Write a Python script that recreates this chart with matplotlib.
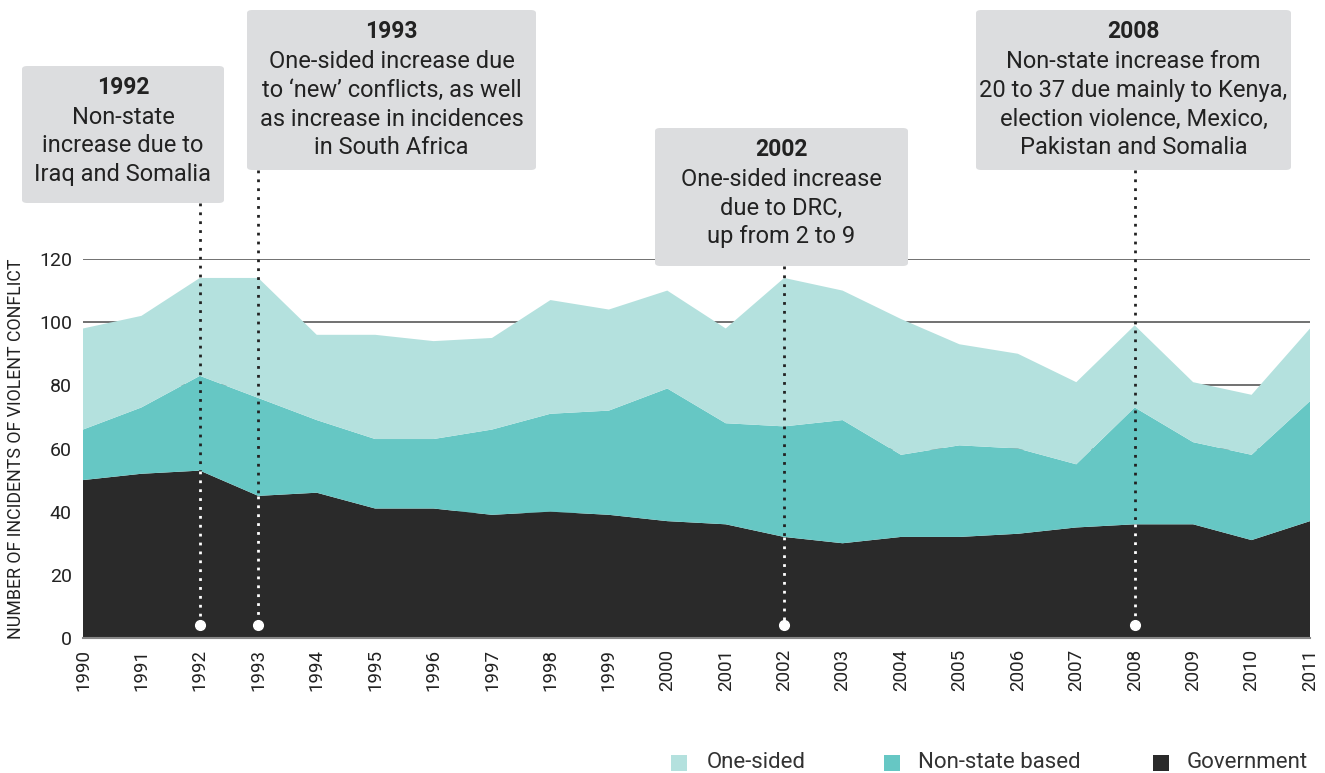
import matplotlib
matplotlib.use("Agg")
import matplotlib.pyplot as plt
from matplotlib.patches import FancyBboxPatch, Rectangle

years = list(range(1990, 2012))
government = [50, 52, 53, 45, 46, 41, 41, 39, 40, 39, 37, 36, 32, 30, 32, 32, 33, 35, 36, 36, 31, 37]
non_state = [16, 21, 30, 31, 23, 22, 22, 27, 31, 33, 42, 32, 35, 39, 26, 29, 27, 20, 37, 26, 27, 38]
one_sided = [32, 29, 31, 38, 27, 33, 31, 29, 36, 32, 31, 30, 47, 41, 43, 32, 30, 26, 26, 19, 19, 23]

series_names = ["One-sided", "Non-state based", "Government"]
colors = {"One-sided": "#b4e1de", "Non-state based": "#66c7c4", "Government": "#2a2a2a"}

notes = [
    (1992, "1992", ["Non-state", "increase due to", "Iraq and Somalia"]),
    (1993, "1993", ["One-sided increase due", "to \u2018new\u2019 conflicts, as well",
                    "as increase in incidences", "in South Africa"]),
    (2002, "2002", ["One-sided increase", "due to DRC,", "up from 2 to 9"]),
    (2008, "2008", ["Non-state increase from", "20 to 37 due mainly to Kenya,",
                    "election violence, Mexico,", "Pakistan and Somalia"]),
]
# box extents in pixels: left, right, top, bottom
boxes = {1992: (22, 224, 66, 203), 1993: (247, 536, 10, 170),
         2002: (655, 908, 128, 266), 2008: (976, 1291, 10, 170)}

W, H = 1325, 773
FONT = "Roboto"
plt.rcParams["font.family"] = [FONT, "DejaVu Sans"]

fig = plt.figure(figsize=(W / 100, H / 100), dpi=100)
ax_l, ax_r, ax_t, ax_b = 83, 1310, 259, 638
ax = fig.add_axes([ax_l / W, 1 - ax_b / H, (ax_r - ax_l) / W, (ax_b - ax_t) / H])


def fx(px):
    return px / W


def fy(py):
    return 1 - py / H


def val(py):
    return (ax_b - py) / (ax_b - ax_t) * 120


ax.stackplot(years, government, non_state, one_sided,
             colors=[colors["Government"], colors["Non-state based"], colors["One-sided"]],
             linewidth=0, zorder=2)

ax.set_xlim(1990, 2011)
ax.set_ylim(0, 120)
ax.set_yticks(range(0, 121, 20))
ax.set_xticks(years)
ax.set_xticklabels([str(y) for y in years], rotation=90, fontsize=13.5, color="#222222")
ax.tick_params(axis="y", labelsize=14, colors="#222222", length=0, pad=8)
ax.tick_params(axis="x", length=0, pad=8)
ax.grid(axis="y", color="#666666", linewidth=1.3, zorder=1)
ax.set_axisbelow(True)
for s in ["top", "right", "left"]:
    ax.spines[s].set_visible(False)
ax.spines["bottom"].set_color("#888888")
ax.spines["bottom"].set_linewidth(1.5)
ax.spines["bottom"].set_zorder(3)
ax.set_ylabel("NUMBER OF INCIDENTS OF VIOLENT CONFLICT", fontsize=12.8, color="#222222")
ax.yaxis.set_label_coords(-0.047, 0.5)

# annotation boxes with dotted leaders
for year, title, lines in notes:
    l, r, t, b = boxes[year]
    box = FancyBboxPatch((fx(l), fy(b)), fx(r - l), (b - t) / H,
                         boxstyle="round,pad=0,rounding_size=0.004",
                         transform=fig.transFigure, facecolor="#dcdddf",
                         edgecolor="none", zorder=5)
    fig.patches.append(box)
    cx = fx((l + r) / 2)
    fig.text(cx, fy(t + 22), title, ha="center", va="center", fontsize=16.5,
             fontweight="bold", color="#222222", zorder=6)
    for i, line in enumerate(lines):
        fig.text(cx, fy(t + 51 + 29 * i), line, ha="center", va="center",
                 fontsize=17, color="#222222", zorder=6)
    g = government[years.index(year)]
    ax.plot([year, year], [val(b), g], linestyle=(0, (1, 2.2)), color="#222222",
            linewidth=2, zorder=4, clip_on=False)
    ax.plot([year, year], [g, 4], linestyle=(0, (1, 2.2)), color="white",
            linewidth=2, zorder=4)
    ax.plot([year], [4], "o", color="white", markersize=7, zorder=4)

# legend along the bottom
legend_pos = [("One-sided", 671, 707), ("Non-state based", 884, 918), ("Government", 1153, 1187)]
for name, sx, tx in legend_pos:
    fig.patches.append(Rectangle((fx(sx), fy(771)), fx(16), 16 / H,
                                 transform=fig.transFigure, facecolor=colors[name],
                                 edgecolor="none"))
    fig.text(fx(tx), fy(762), name, ha="left", va="center", fontsize=16, color="#333333")

fig.savefig("out.png", dpi=100)
